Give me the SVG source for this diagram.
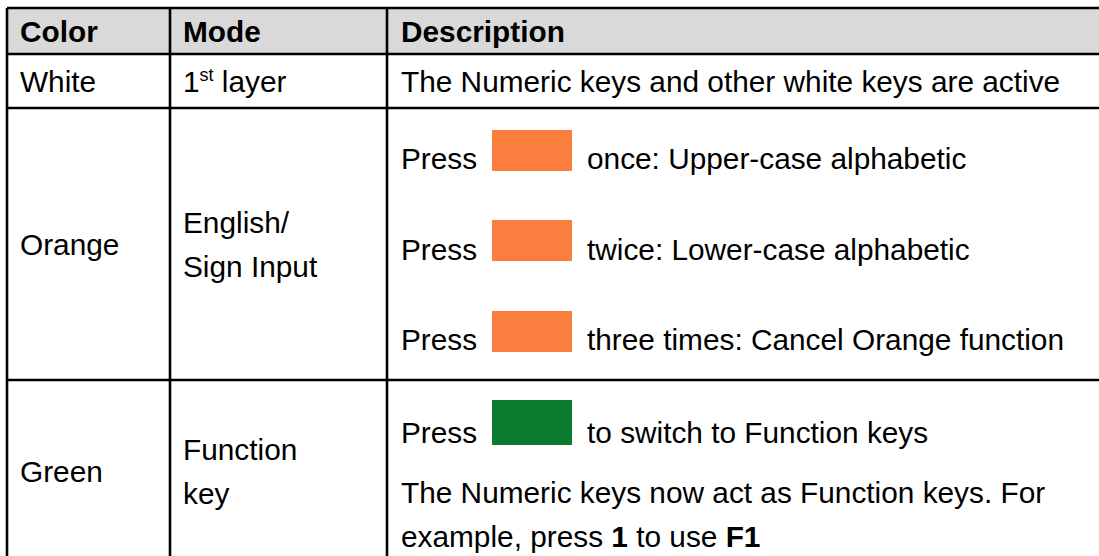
<svg xmlns="http://www.w3.org/2000/svg" width="1099" height="556" viewBox="0 0 1099 556">
<style>
  text { font-family: "Liberation Sans", Arial, sans-serif; font-size: 29.8px; fill: #000; }
  .b { font-weight: bold; }
  .sup { font-size: 18px; }
  .ln { stroke: #000; stroke-width: 2.6; fill: none; }
  .ok { fill: #fc7e3e; }
  .gk { fill: #0a7a2e; }
</style>
<rect x="0" y="0" width="1099" height="556" fill="#fff"/>
<g id="grid">
  <rect x="7" y="8" width="1092" height="46" fill="#d9d9d9"/>
  <line class="ln" x1="7" y1="8" x2="1099" y2="8"/>
  <line class="ln" x1="7" y1="54" x2="1099" y2="54"/>
  <line class="ln" x1="7" y1="108" x2="1099" y2="108"/>
  <line class="ln" x1="7" y1="380" x2="1099" y2="380"/>
  <line class="ln" x1="7" y1="8" x2="7" y2="556"/>
  <line class="ln" x1="170" y1="8" x2="170" y2="556"/>
  <line class="ln" x1="387" y1="8" x2="387" y2="556"/>
</g>
<g id="header">
  <text class="b" x="20" y="42">Color</text>
  <text class="b" x="183" y="42">Mode</text>
  <text class="b" x="401" y="42">Description</text>
</g>
<g id="row-white">
  <text x="20" y="92">White</text>
  <text x="183" y="92">1<tspan class="sup" dy="-11">st</tspan><tspan dy="11"> layer</tspan></text>
  <text x="401" y="92">The Numeric keys and other white keys are active</text>
</g>
<g id="row-orange">
  <text x="20" y="255">Orange</text>
  <text x="183" y="233">English/</text>
  <text x="183" y="277">Sign Input</text>
  <text x="401" y="169">Press</text>
  <rect class="ok" x="492" y="130" width="80" height="41"/>
  <text x="587" y="169">once: Upper-case alphabetic</text>
  <text x="401" y="260">Press</text>
  <rect class="ok" x="492" y="220" width="80" height="41"/>
  <text x="587" y="260">twice: Lower-case alphabetic</text>
  <text x="401" y="350">Press</text>
  <rect class="ok" x="492" y="311" width="80" height="41"/>
  <text x="587" y="350">three times: Cancel Orange function</text>
</g>
<g id="row-green">
  <text x="20" y="482">Green</text>
  <text x="183" y="460">Function</text>
  <text x="183" y="504">key</text>
  <text x="401" y="443">Press</text>
  <rect class="gk" x="492" y="400" width="80" height="45"/>
  <text x="587" y="443">to switch to Function keys</text>
  <text x="401" y="503">The Numeric keys now act as Function keys. For</text>
  <text x="401" y="547">example, press <tspan class="b">1</tspan> to use <tspan class="b">F1</tspan></text>
</g>
</svg>
